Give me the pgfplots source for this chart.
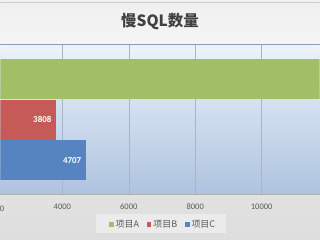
\documentclass[border=0pt]{standalone}
\usepackage{pgfplots}
\pgfplotsset{compat=1.18}
\usepackage{fontspec}
\setmainfont{Carlito}
\newfontfamily\cjk{Noto Sans CJK SC}
\definecolor{cA}{HTML}{A0BF66}
\definecolor{cB}{HTML}{C65A57}
\definecolor{cC}{HTML}{5584C0}
\definecolor{tk}{HTML}{595959}
\definecolor{gridc}{HTML}{A8B5C7}
\definecolor{bgtop}{HTML}{EDF3FA}
\definecolor{bgbot}{HTML}{AEC3E0}
\definecolor{border}{HTML}{8C9BAF}
\begin{document}
\begin{tikzpicture}
% chart background
\shade[top color=white!95!black, bottom color=white!87!black] (0pt,0pt) rectangle (320pt,240pt);
% title area
\shade[top color=white!94!black, bottom color=white!96!black] (0pt,196pt) rectangle (320pt,238pt);
\draw[color=white!80!black, line width=0.8pt] (0pt,237.5pt) -- (320pt,237.5pt);
% legend box
\fill[white!92!black] (96pt,6pt) rectangle (226pt,25pt);
\node[font=\cjk\bfseries\fontsize{15.5}{17}\selectfont, text=white!25!black] at (160pt,218pt) {慢SQL数量};
\begin{axis}[
  at={(0pt,45pt)}, anchor=south west,
  width=320pt, height=150.5pt, scale only axis,
  xmin=2140, xmax=11740, ymin=-0.83, ymax=2.84,
  axis background/.style={top color=bgtop, bottom color=bgbot},
  axis x line*=bottom, axis y line=none,
  x axis line style={draw=white!70!black, line width=0.6pt, -},
  xtick={4000,6000,8000,10000,12000},
  scaled x ticks=false,
  major tick length=0pt,
  xmajorgrids, grid style={color=gridc, line width=0.5pt},
  tick label style={font=\fontsize{8.5}{10}\selectfont, text=tk},
  xticklabel style={yshift=-6pt},
  /pgf/number format/assume math mode=true,
  /pgf/number format/1000 sep={},
  xbar, bar width=0.98, bar shift=0pt,
  nodes near coords,
  every node near coord/.append style={anchor=east, xshift=-1pt, text=white, font=\bfseries\fontsize{9}{10}\selectfont},
  legend columns=3,
  legend style={at={(0.51,-0.2)}, anchor=center, draw=none, fill=none,
    font=\cjk\fontsize{9}{10}\selectfont, text=tk,
    /tikz/every even column/.append style={column sep=6pt}},
  legend image code/.code={\fill[#1, draw=none] (0pt,-2.2pt) rectangle (4.4pt,2.2pt);},
]
\addplot[fill=cA, draw=none, nodes near coords={}] coordinates {(13000,2)};
\addplot[fill=cB, draw=none] coordinates {(3808,1)};
\addplot[fill=cC, draw=none] coordinates {(4707,0)};
\legend{项目A,项目B,项目C}
\end{axis}
\draw[color=border, line width=1pt] (0pt,195.3pt) -- (320pt,195.3pt);
\node[overlay, font=\fontsize{8.5}{10}\selectfont, text=tk] at (-5pt,31pt) {2000};
\end{tikzpicture}
\end{document}
